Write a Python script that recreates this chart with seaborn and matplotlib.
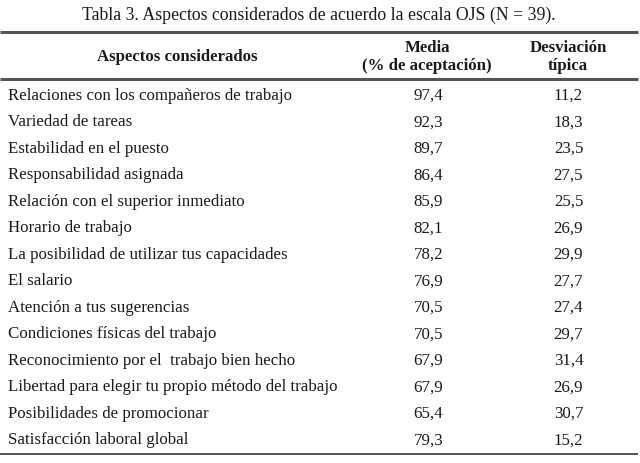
import matplotlib
matplotlib.use("Agg")
import matplotlib.pyplot as plt
import seaborn as sns
import pandas as pd

title = "Tabla 3. Aspectos considerados de acuerdo la escala OJS (N = 39)."
col_headers = ["Aspectos considerados", "Media\n(% de aceptación)", "Desviación\ntípica"]
aspectos = [
    "Relaciones con los compañeros de trabajo",
    "Variedad de tareas",
    "Estabilidad en el puesto",
    "Responsabilidad asignada",
    "Relación con el superior inmediato",
    "Horario de trabajo",
    "La posibilidad de utilizar tus capacidades",
    "El salario",
    "Atención a tus sugerencias",
    "Condiciones físicas del trabajo",
    "Reconocimiento por el  trabajo bien hecho",
    "Libertad para elegir tu propio método del trabajo",
    "Posibilidades de promocionar",
    "Satisfacción laboral global",
]
media = [97.4, 92.3, 89.7, 86.4, 85.9, 82.1, 78.2, 76.9, 70.5, 70.5, 67.9, 67.9, 65.4, 79.3]
desviacion = [11.2, 18.3, 23.5, 27.5, 25.5, 26.9, 29.9, 27.7, 27.4, 29.7, 31.4, 26.9, 30.7, 15.2]

df = pd.DataFrame({"aspecto": aspectos, "media": media, "desv": desviacion})

sns.set_theme(style="white")
plt.rcParams["font.family"] = ["Liberation Serif", "DejaVu Serif"]

fig = plt.figure(figsize=(6.4, 4.64), dpi=100)
ax = fig.add_axes([0, 0, 1, 1])
ax.set_xlim(0, 640)
ax.set_ylim(464, 0)
ax.axis("off")

fs = 12.2
fs_head = 12.1
txt_color = "#1a1a1a"
rule_color = "#555555"

ax.text(319, 15, title, ha="center", va="center", fontsize=12.8, color=txt_color)

ax.hlines([33, 80], 0, 638, color=rule_color, lw=2.2)
ax.hlines([455], 0, 638, color=rule_color, lw=1.4)

ax.text(177, 57, col_headers[0], ha="center", va="center", fontsize=fs_head,
        fontweight="bold", color=txt_color)
ax.text(427, 57, col_headers[1], ha="center", va="center", fontsize=fs_head,
        fontweight="bold", color=txt_color, linespacing=1.12)
ax.text(568, 57, col_headers[2], ha="center", va="center", fontsize=fs_head,
        fontweight="bold", color=txt_color, linespacing=1.12)

y0, dy = 96, 26.5
for i, row in df.iterrows():
    y = y0 + i * dy
    ax.text(8, y, row["aspecto"], ha="left", va="center", fontsize=fs, color=txt_color)
    ax.text(428.5, y, f"{row['media']:.1f}".replace(".", ","), ha="center", va="center",
            fontsize=fs, color=txt_color)
    ax.text(568.5, y, f"{row['desv']:.1f}".replace(".", ","), ha="center", va="center",
            fontsize=fs, color=txt_color)

fig.savefig("out.png", dpi=100, facecolor="white")
